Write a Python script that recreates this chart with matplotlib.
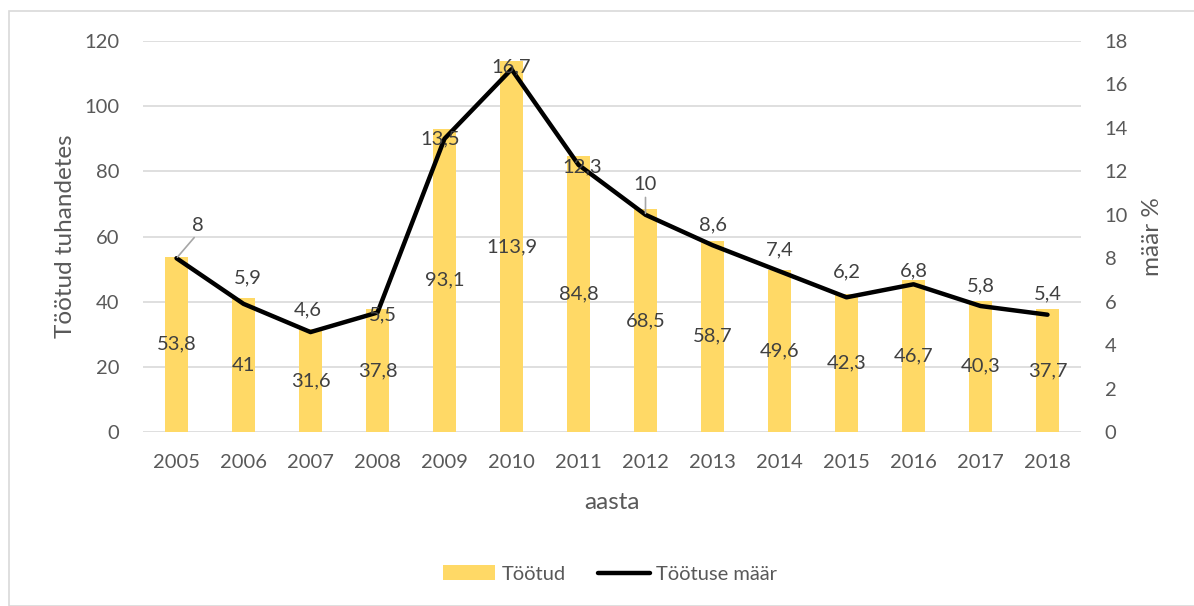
import matplotlib
matplotlib.use("Agg")
import matplotlib.pyplot as plt
from matplotlib.patches import Rectangle

# andmed
years = ["2005", "2006", "2007", "2008", "2009", "2010", "2011",
         "2012", "2013", "2014", "2015", "2016", "2017", "2018"]
tootud = [53.8, 41, 31.6, 37.8, 93.1, 113.9, 84.8, 68.5, 58.7, 49.6, 42.3, 46.7, 40.3, 37.7]
maar = [8, 5.9, 4.6, 5.5, 13.5, 16.7, 12.3, 10, 8.6, 7.4, 6.2, 6.8, 5.8, 5.4]

# label placement (pixels), like excel put them
line_lab_dy = [33, 26, 22, -2, 0, 2, -2, 30, 20, 21, 25, 13, 20, 21]
line_lab_dx = [21, 4, -3, 5, -4, 0, 4, 0, 0, 0, 0, 0, 0, 0]
leader = [True, False, False, False, False, False, False, True, False, False, False, False, False, False]

def fmt(v):
    return ("%g" % v).replace(".", ",")

plt.rcParams["font.family"] = ["Lato", "DejaVu Sans"]
grey = "#595959"
px = 0.72  # pixels -> points at dpi 100

fig = plt.figure(figsize=(11.94, 6.06), dpi=100)
ax = fig.add_axes([143/1194, 1-432/606, (1081-143)/1194, (432-41)/606])
ax2 = ax.twinx()

x = list(range(len(years)))
ax.bar(x, tootud, width=0.33, color="#FFD966", zorder=2, label="Töötud")
ax2.plot(x, maar, color="black", lw=3.2, zorder=3, label="Töötuse määr", solid_capstyle="round")

ax.set_xlim(-0.5, len(years) - 0.5)
ax.set_ylim(0, 120)
ax.set_yticks(range(0, 121, 20))
ax2.set_ylim(0, 18)
ax2.set_yticks(range(0, 19, 2))
ax.set_xticks(x)
ax.set_xticklabels(years)
ax.grid(axis="y", color="#D9D9D9", lw=1.2, zorder=0)
ax.set_axisbelow(True)
for a in (ax, ax2):
    for s in a.spines.values():
        s.set_visible(False)
    a.tick_params(length=0, labelsize=14.5, colors=grey, pad=17)
ax.tick_params(axis="x", pad=16)

ax.set_ylabel("Töötud tuhandetes", fontsize=17.5, color=grey, labelpad=6)
ax2.set_ylabel("määr %", fontsize=17.5, color=grey, labelpad=10)
ax.set_xlabel("aasta", fontsize=17.5, color=grey, labelpad=15)

for i, v in enumerate(tootud):
    ax.annotate(fmt(v), (i, v / 2), ha="center", va="center", fontsize=14.5,
                color="#404040", zorder=4)

for i, v in enumerate(maar):
    ap = None
    if leader[i]:
        ap = dict(arrowstyle="-", color="#A6A6A6", lw=1.2, shrinkA=1, shrinkB=1, relpos=(0.5, 0))
    ax2.annotate(fmt(v), (i, v), xytext=(line_lab_dx[i] * px, line_lab_dy[i] * px),
                 textcoords="offset points", ha="center", va="center", fontsize=14.5,
                 color="#404040", zorder=5, arrowprops=ap)

h1, l1 = ax.get_legend_handles_labels()
h2, l2 = ax2.get_legend_handles_labels()
fig.legend(h1 + h2, l1 + l2, loc="center", bbox_to_anchor=(610/1194, 1-574/606), ncol=2,
           frameon=False, fontsize=14.5, labelcolor=grey, handlelength=2.6, columnspacing=1.6,
           handletextpad=0.3)

fig.patches.append(Rectangle((9/1194, 0), 1, 1-11/606, transform=fig.transFigure,
                             fill=False, edgecolor="#D9D9D9", lw=1.2))

fig.savefig("out.png", dpi=100)
